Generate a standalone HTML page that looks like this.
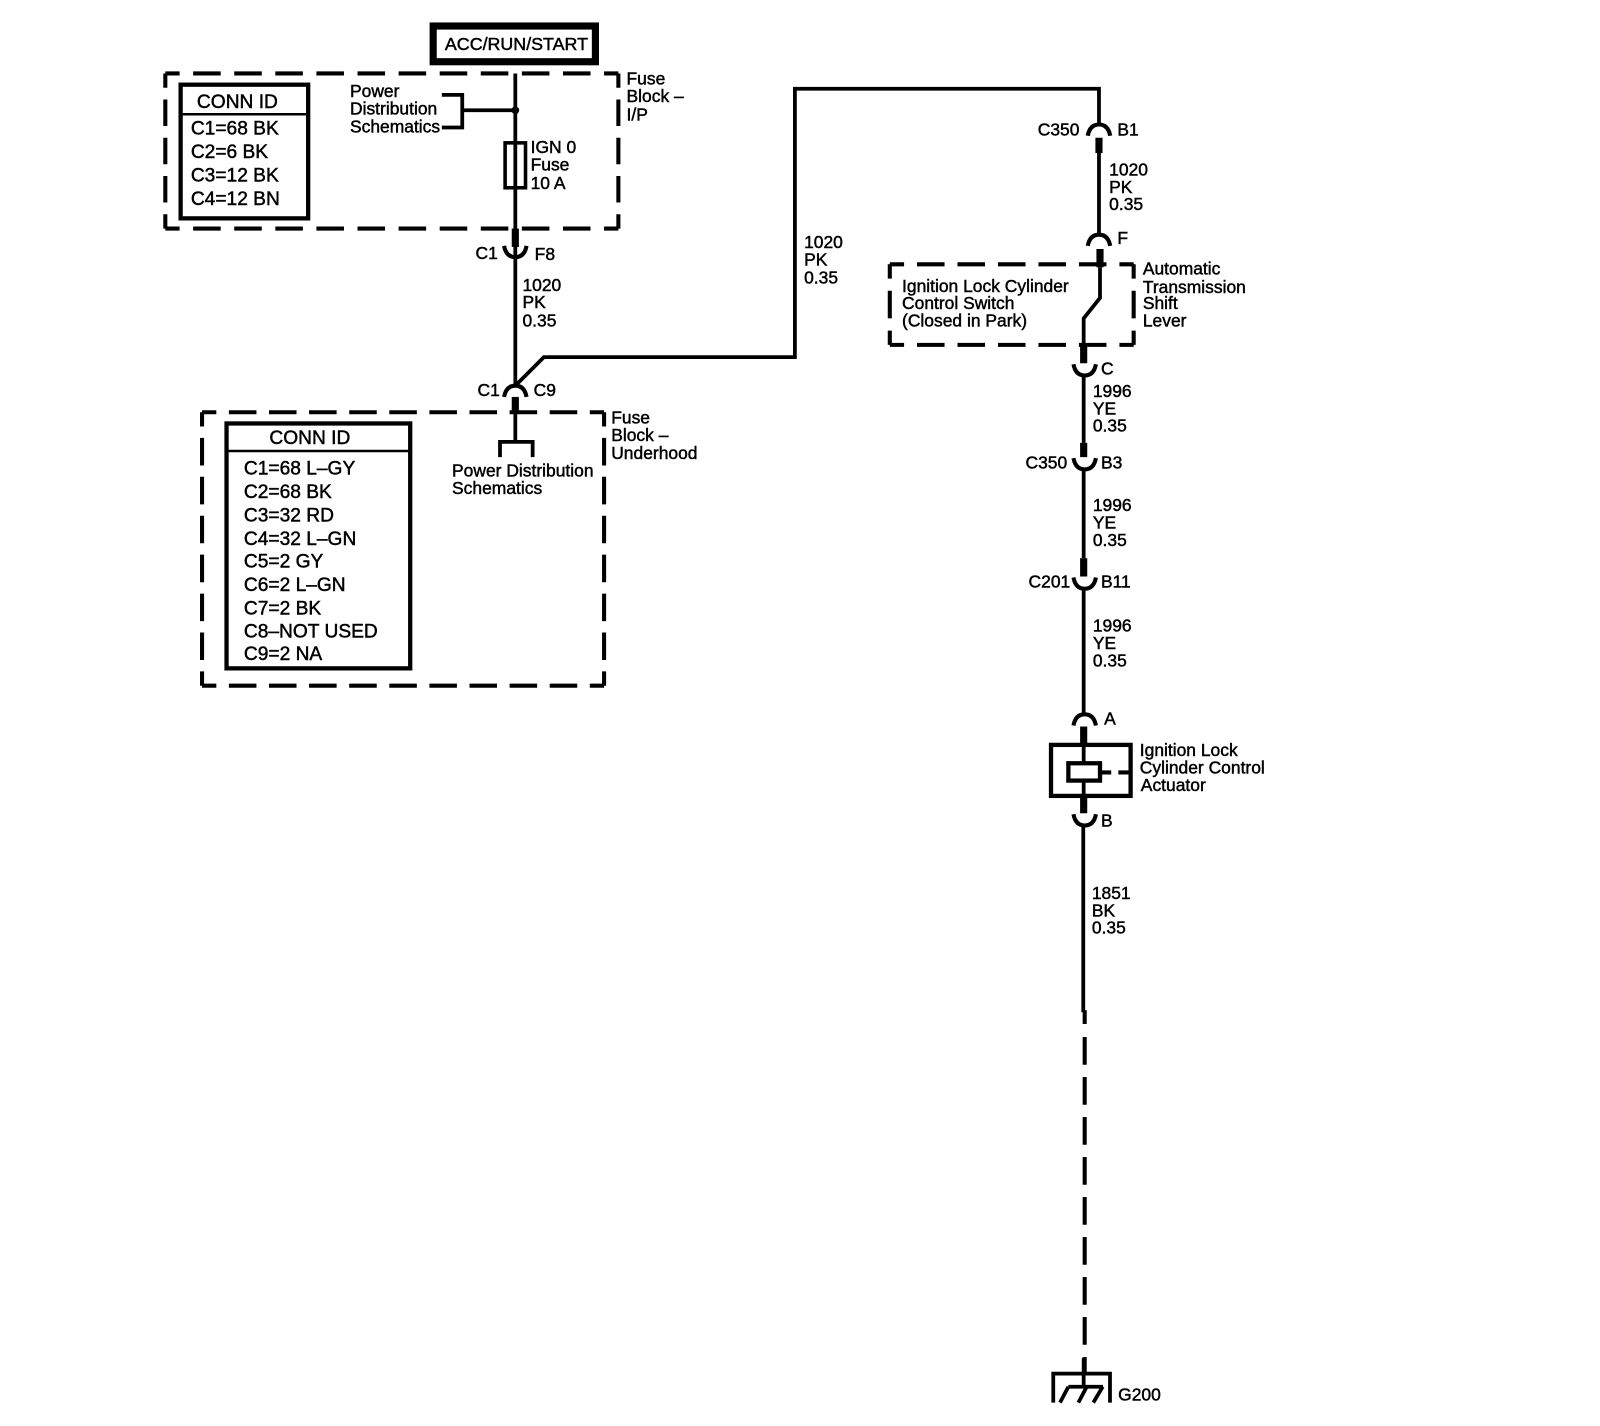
<!DOCTYPE html>
<html><head><meta charset="utf-8"><style>
html,body{margin:0;padding:0;background:#fff}
svg{display:block}
text{font-family:"Liberation Sans",sans-serif;font-size:17.1px;fill:#000;stroke:#000;stroke-width:.45}
.b{font-size:18.8px}
.w{fill:none;stroke:#000;stroke-width:3.7}
.t{fill:none;stroke:#000;stroke-width:7}
.a{fill:none;stroke:#000;stroke-width:4}
.d{fill:none;stroke:#000;stroke-width:4}
</style></head><body>
<svg width="1600" height="1426" viewBox="0 0 1568 1397.5" xmlns="http://www.w3.org/2000/svg">
<rect x="424.5" y="25.5" width="159" height="35" fill="none" stroke="#000" stroke-width="7"/>
<text x="436" y="49" style="font-size:17.5px">ACC/RUN/START</text>
<path class="d" d="M162 72H606M162 224H606" stroke-dasharray="27 13.27" stroke-dashoffset="13"/>
<path class="d" d="M162 72V224M606 72V224" stroke-dasharray="26 11.5" stroke-dashoffset="12"/>
<rect x="177" y="83" width="125" height="131" fill="none" stroke="#000" stroke-width="4.2"/>
<path d="M177 112H302" stroke="#000" stroke-width="2.5"/>
<text class="b" x="193" y="106">CONN ID</text>
<text class="b" x="187" y="132">C1=68 BK</text>
<text class="b" x="187" y="155">C2=6 BK</text>
<text class="b" x="187" y="178">C3=12 BK</text>
<text class="b" x="187" y="201">C4=12 BN</text>
<text x="343" y="95">Power</text>
<text x="343" y="112">Distribution</text>
<text x="343" y="130">Schematics</text>
<path class="w" d="M433 93H453V125H433M453 108H505"/>
<circle cx="505" cy="108" r="3.8"/>
<path class="w" d="M505 72V378"/>
<rect x="495" y="140" width="20" height="44" fill="none" stroke="#000" stroke-width="3.5"/>
<text x="520" y="150">IGN 0</text><text x="520" y="167">Fuse</text><text x="520" y="185">10 A</text>
<text x="614" y="83">Fuse</text><text x="614" y="100">Block –</text><text x="614" y="118">I/P</text>
<path class="t" d="M505 224V242"/>
<path class="a" d="M494 241Q496 252 505 252Q514 252 516 241"/>
<text x="466" y="254">C1</text><text x="524" y="255">F8</text>
<text x="512" y="285">1020</text><text x="512" y="302">PK</text><text x="512" y="320">0.35</text>
<path class="w" d="M505 378L533 350H779V87H1077V122"/>
<path class="a" d="M494 389Q496 378 505 378Q514 378 516 389"/>
<text x="468" y="388">C1</text><text x="523" y="388">C9</text>
<path class="t" d="M505 389V405"/>
<path class="w" d="M505 405V433M490 448V433H522V448"/>
<path class="d" d="M198 404H592M198 672H592" stroke-dasharray="27 12.3" stroke-dashoffset="13"/>
<path class="d" d="M198 404V672M592 404V672" stroke-dasharray="27 11.14" stroke-dashoffset="13"/>
<rect x="222" y="415" width="180" height="240" fill="none" stroke="#000" stroke-width="4.2"/>
<path d="M222 442H402" stroke="#000" stroke-width="2.5"/>
<text class="b" x="264" y="435">CONN ID</text>
<text class="b" x="239" y="465">C1=68 L–GY</text>
<text class="b" x="239" y="488">C2=68 BK</text>
<text class="b" x="239" y="511">C3=32 RD</text>
<text class="b" x="239" y="534">C4=32 L–GN</text>
<text class="b" x="239" y="556">C5=2 GY</text>
<text class="b" x="239" y="579">C6=2 L–GN</text>
<text class="b" x="239" y="602">C7=2 BK</text>
<text class="b" x="239" y="625">C8–NOT USED</text>
<text class="b" x="239" y="647">C9=2 NA</text>
<text x="443" y="467">Power Distribution</text><text x="443" y="484">Schematics</text>
<text x="599" y="415">Fuse</text><text x="599" y="432">Block –</text><text x="599" y="450">Underhood</text>
<text x="788" y="243">1020</text><text x="788" y="260">PK</text><text x="788" y="278">0.35</text>
<path class="a" d="M1066 133Q1068 122 1077 122Q1086 122 1088 133"/>
<text x="1017" y="133">C350</text><text x="1095" y="133">B1</text>
<path class="t" d="M1077 135V150"/>
<path class="w" d="M1077 150V230"/>
<text x="1087" y="172">1020</text><text x="1087" y="189">PK</text><text x="1087" y="206">0.35</text>
<path class="a" d="M1066 241Q1068 230 1077 230Q1086 230 1088 241"/>
<text x="1095" y="239">F</text>
<path class="t" d="M1078 244V262"/>
<path class="w" d="M1078 262V292L1062 312V340"/>
<path class="d" d="M872 259H1111M872 338H1111" stroke-dasharray="27 12.67" stroke-dashoffset="13"/>
<path class="d" d="M872 259V338M1111 259V338" stroke-dasharray="27 12" stroke-dashoffset="13"/>
<text x="884" y="286">Ignition Lock Cylinder</text><text x="884" y="303">Control Switch</text><text x="884" y="320">(Closed in Park)</text>
<text x="1120" y="269">Automatic</text><text x="1120" y="287">Transmission</text><text x="1120" y="303">Shift</text><text x="1120" y="320">Lever</text>
<path class="t" d="M1062 338V356"/>
<path class="a" d="M1052 357Q1054 368 1063 368Q1072 368 1074 357"/>
<text x="1079" y="367">C</text>
<path class="w" d="M1062 368V434"/>
<text x="1071" y="389">1996</text><text x="1071" y="406">YE</text><text x="1071" y="423">0.35</text>
<path class="t" d="M1062 434V448"/>
<path class="a" d="M1052 449Q1054 460 1063 460Q1072 460 1074 449"/>
<text x="1005" y="459">C350</text><text x="1079" y="459">B3</text>
<path class="w" d="M1062 460V547"/>
<text x="1071" y="501">1996</text><text x="1071" y="518">YE</text><text x="1071" y="535">0.35</text>
<path class="t" d="M1062 547V565"/>
<path class="a" d="M1052 566Q1054 577 1063 577Q1072 577 1074 566"/>
<text x="1008" y="576">C201</text><text x="1079" y="576">B11</text>
<path class="w" d="M1062 577V699"/>
<text x="1071" y="619">1996</text><text x="1071" y="636">YE</text><text x="1071" y="653">0.35</text>
<path class="a" d="M1052 711Q1054 700 1063 700Q1072 700 1074 711"/>
<text x="1082" y="710">A</text>
<path class="t" d="M1062 712V730"/>
<rect x="1030" y="730" width="78" height="50" fill="none" stroke="#000" stroke-width="4.2"/>
<path class="w" d="M1062 730V780"/>
<rect x="1047" y="748" width="31" height="17" fill="#fff" stroke="#000" stroke-width="4.2"/>
<path class="a" d="M1078 757H1089M1096 757H1108"/>
<text x="1117" y="741">Ignition Lock</text><text x="1117" y="758">Cylinder Control</text><text x="1118" y="775">Actuator</text>
<path class="t" d="M1062 780V797"/>
<path class="a" d="M1052 798Q1054 809 1063 809Q1072 809 1074 798"/>
<text x="1079" y="810">B</text>
<path class="w" d="M1061.6 809V992"/>
<text x="1070" y="881">1851</text><text x="1070" y="898">BK</text><text x="1070" y="915">0.35</text>
<path class="d" d="M1063 990V1003.5"/>
<path class="d" d="M1063 1016.3V1347" stroke-dasharray="27.2 12"/>
<path class="w" d="M1032.2 1374.6V1346.2H1087.8V1374.6M1062 1331V1359"/>
<path class="w" d="M1047 1359H1081M1047 1359L1038.8 1374.6M1065 1359L1056.8 1374.6M1080.7 1359L1071.4 1374.6"/>
<text x="1095.8" y="1372.7">G200</text>
</svg>
</body></html>
